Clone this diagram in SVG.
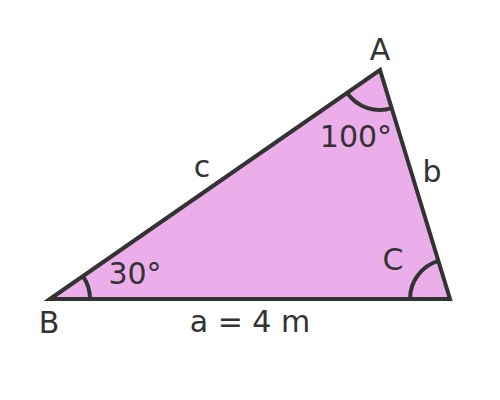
<svg xmlns="http://www.w3.org/2000/svg" width="500" height="400" viewBox="0 0 500 400">
<style>
.ln{fill:none;stroke:#333333;stroke-width:4;stroke-linejoin:miter}
.t{font-family:"DejaVu Sans",sans-serif;font-size:30px;fill:#333333;text-anchor:middle}
</style>
<rect width="500" height="400" fill="#ffffff"/>
<g id="triangle">
<polygon points="50,299 380,70 450,299" fill="#ECAEEA" stroke="#333333" stroke-width="4" stroke-linejoin="miter"/>
</g>
<g id="angles">
<path class="ln" d="M347.1,92.8 A40,40 0 0 0 391.7,108.2"/>
<path class="ln" d="M90,299 A40,40 0 0 0 82.9,276.2"/>
<path class="ln" d="M410,299 A40,40 0 0 1 438.3,260.8"/>
</g>
<g id="labels">
<text class="t" x="380" y="60">A</text>
<text class="t" x="49" y="333">B</text>
<text class="t" x="393" y="270">C</text>
<text class="t" x="202" y="177">c</text>
<text class="t" x="432" y="182">b</text>
<text class="t" x="250" y="332">a = 4 m</text>
<text class="t" x="356" y="147">100°</text>
<text class="t" x="135" y="284">30°</text>
</g>
</svg>
